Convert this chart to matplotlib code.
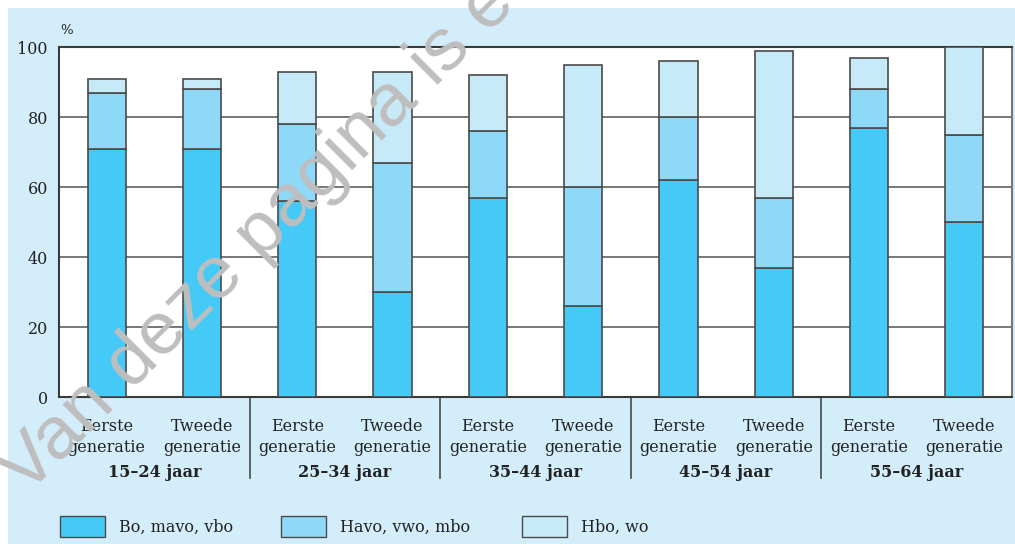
import matplotlib.pyplot as plt
import matplotlib.patches as mpatches
import matplotlib.transforms as mtransforms
import numpy as np

# data (percentages)
age_groups = ["15–24 jaar", "25–34 jaar", "35–44 jaar", "45–54 jaar", "55–64 jaar"]
generations = ["Eerste\ngeneratie", "Tweede\ngeneratie"]
series_names = ["Bo, mavo, vbo", "Havo, vwo, mbo", "Hbo, wo"]
bo_mavo_vbo = [71, 71, 56, 30, 57, 26, 62, 37, 77, 50]
havo_vwo_mbo = [16, 17, 22, 37, 19, 34, 18, 20, 11, 25]
hbo_wo = [4, 3, 15, 26, 16, 35, 16, 42, 9, 25]
y_ticks = [0, 20, 40, 60, 80, 100]

colors = ["#45c9f6", "#8fd9f8", "#c7eaf9"]
bg = "#d3eefa"
edge = "#4a4a4a"
serif = "DejaVu Serif"

W, H = 1015, 544
fig = plt.figure(figsize=(W / 100, H / 100), dpi=100)
fig.patch.set_facecolor("white")
fig.patches.append(mpatches.Rectangle((8 / W, 0), 1, 1 - 8 / H, transform=fig.transFigure,
                                      facecolor=bg, edgecolor="none", zorder=-5))

ax = fig.add_axes([59 / W, 1 - 397 / H, 953 / W, 350 / H])
ax.set_facecolor("white")

x = np.arange(len(bo_mavo_vbo))
bottom = np.zeros(len(x))
for vals, c in zip([bo_mavo_vbo, havo_vwo_mbo, hbo_wo], colors):
    ax.bar(x, vals, bottom=bottom, width=0.4, color=c, edgecolor=edge, linewidth=1.2, zorder=3)
    bottom += np.array(vals)

ax.set_xlim(-0.5, len(x) - 0.5)
ax.set_ylim(0, 100)
ax.set_yticks(y_ticks)
ax.set_yticklabels([str(t) for t in y_ticks], family=serif, fontsize=11.5, color="#222")
ax.tick_params(axis="y", length=0, pad=8)
for t in y_ticks[1:-1]:
    ax.axhline(t, color="#777777", linewidth=1.4, zorder=1)

ax.set_xticks(x)
ax.set_xticklabels(generations * len(age_groups), family=serif, fontsize=11.5,
                   color="#222", linespacing=1.3)
ax.tick_params(axis="x", length=0, pad=15)

for s in ax.spines.values():
    s.set_color("#3a3a3a")
    s.set_linewidth(1.5)
ax.spines["right"].set_color("#777777")

trans = mtransforms.blended_transform_factory(ax.transData, ax.transAxes)
for i, g in enumerate(age_groups):
    ax.text(2 * i + 0.5, -0.215, g, transform=trans, ha="center", va="center",
            family=serif, fontsize=11.5, fontweight="bold", color="#222")
    if i > 0:
        ax.plot([2 * i - 0.5, 2 * i - 0.5], [0, -0.232], transform=trans, color="#555555",
                linewidth=1.3, clip_on=False)

fig.text(60 / W, 1 - 30 / H, "%", family=serif, fontsize=9.5, color="#222",
         ha="left", va="center")

# legend drawn as boxes + labels along the bottom
legend_x = [60, 281, 522]
for lx, name, c in zip(legend_x, series_names, colors):
    fig.patches.append(mpatches.Rectangle((lx / W, 1 - 537 / H), 45 / W, 21 / H,
                                          transform=fig.transFigure, facecolor=c,
                                          edgecolor=edge, linewidth=1.0, zorder=2))
    fig.text((lx + 59) / W, 1 - 527 / H, name, family=serif, fontsize=11.5,
             color="#222", ha="left", va="center")

# watermark
fig.text(26 / W, 1 - 496 / H, "Van deze pagina is e", family="Liberation Sans",
         fontsize=54, color="#bebebe", rotation=45, rotation_mode="anchor",
         ha="left", va="baseline", zorder=10)

fig.savefig("out.png", dpi=100, facecolor=fig.get_facecolor())
